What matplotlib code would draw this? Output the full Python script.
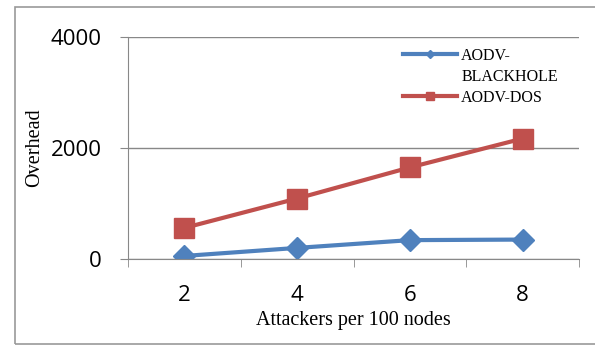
import numpy as np
from matplotlib import pyplot as plt
from matplotlib.patches import Rectangle
from matplotlib.lines import Line2D

# attackers per 100 nodes
attackers = ['2', '4', '6', '8']
blackhole = [55, 200, 340, 350]
dos = [560, 1090, 1650, 2170]

blue = '#4F81BD'
red = '#C0504D'
grey = '#888888'

fig = plt.figure(figsize=(5.95, 3.45), dpi=100)
fig.patches.append(Rectangle((15/595, 1/345), 1.0, 337/345, transform=fig.transFigure,
                             fill=False, edgecolor='#999999', lw=1.2))

ax = fig.add_axes([128/595, 1-259/345, (579-128)/595, (259-37)/345])
x = np.arange(1, len(attackers)+1)

ax.plot(x, blackhole, color=blue, lw=3, marker='D', ms=11)
ax.plot(x, dos, color=red, lw=3, marker='s', ms=14)

ax.set_xlim(0.5, 4.5)
ax.set_ylim(0, 4000)
ax.set_yticks([0, 2000, 4000])
ax.set_xticks(x)
ax.set_xticklabels(attackers)
ax.set_xticks(np.arange(0.5, 4.6, 1), minor=True)
ax.tick_params(axis='x', which='major', length=0, pad=19, labelsize=16)
ax.tick_params(axis='x', which='minor', length=6, color=grey, direction='out')
ax.tick_params(axis='y', length=6, color=grey, labelsize=16, pad=13)
for lab in ax.get_xticklabels() + ax.get_yticklabels():
    lab.set_fontfamily('Open Sans')

ax.grid(axis='y', color=grey, lw=1)
ax.set_axisbelow(True)
for s in ['top', 'right']:
    ax.spines[s].set_visible(False)
for s in ['left', 'bottom']:
    ax.spines[s].set_color(grey)

ax.set_xlabel('Attackers per 100 nodes', family='Liberation Serif', fontsize=14.5, labelpad=3)
ax.set_ylabel('Overhead', family='Liberation Serif', fontsize=14.5, labelpad=5)

handles = [Line2D([], [], color=blue, lw=3, marker='D', ms=4),
           Line2D([], [], color='none'),
           Line2D([], [], color=red, lw=3, marker='s', ms=6)]
ax.legend(handles, ['AODV-', 'BLACKHOLE', 'AODV-DOS'], loc='upper left',
          bbox_to_anchor=((403-128)/451, (259-48)/222), frameon=False,
          borderpad=0, borderaxespad=0, handlelength=3.4,
          handletextpad=0.25, labelspacing=0.3,
          prop={'family': 'Liberation Serif', 'size': 11.5})

fig.savefig('out.png', dpi=100)
